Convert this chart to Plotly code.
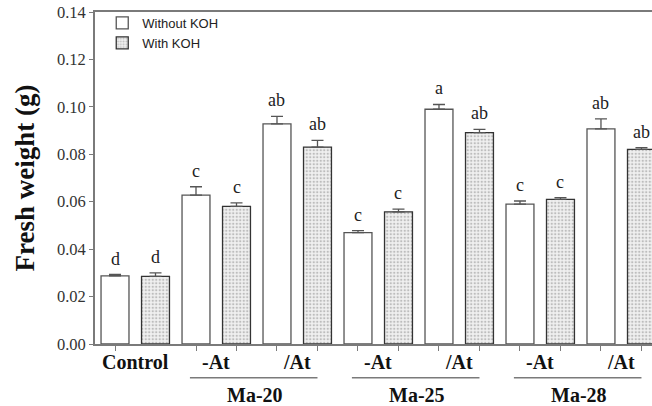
import plotly.graph_objects as go

# Data
groups = ["Control", "Ma-20 -At", "Ma-20 /At", "Ma-25 -At", "Ma-25 /At", "Ma-28 -At", "Ma-28 /At"]
sub_labels = ["Control", "-At", "/At", "-At", "/At", "-At", "/At"]
group_labels = ["Ma-20", "Ma-25", "Ma-28"]
without_koh = [0.0287, 0.0628, 0.0928, 0.0470, 0.0990, 0.0590, 0.0907]
without_err = [0.0006, 0.0035, 0.0032, 0.0008, 0.0020, 0.0013, 0.0042]
with_koh = [0.0285, 0.0580, 0.0830, 0.0557, 0.0891, 0.0610, 0.0821]
with_err = [0.0015, 0.0015, 0.0029, 0.0012, 0.0014, 0.0007, 0.0007]
letters_without = ["d", "c", "ab", "c", "a", "c", "ab"]
letters_with = ["d", "c", "ab", "c", "ab", "c", "ab"]

x_without = [2 * i for i in range(len(groups))]
x_with = [2 * i + 1 for i in range(len(groups))]

serif = "Liberation Serif"
axis_col = "#7a7a7a"

fig = go.Figure()
fig.add_trace(go.Bar(
    x=x_without, y=without_koh, name="Without KOH", width=0.69,
    marker=dict(color="white", line=dict(color="#555555", width=1.3)),
    error_y=dict(type="data", array=without_err, symmetric=False, arrayminus=[0]*7,
                 color="#555555", thickness=1.3, width=6),
))
fig.add_trace(go.Bar(
    x=x_with, y=with_koh, name="With KOH", width=0.69,
    marker=dict(color="#ececec", line=dict(color="#333333", width=1.3),
                pattern=dict(shape=".", fgcolor="#8a8a8a", bgcolor="#f0f0f0", size=3.5, solidity=0.35)),
    error_y=dict(type="data", array=with_err, symmetric=False, arrayminus=[0]*7,
                 color="#555555", thickness=1.3, width=6),
))

annotations = []
for xs, vals, errs, lets in [(x_without, without_koh, without_err, letters_without),
                              (x_with, with_koh, with_err, letters_with)]:
    for x, v, e, l in zip(xs, vals, errs, lets):
        annotations.append(dict(x=x, y=v + e, text=l, showarrow=False, yanchor="bottom",
                                yshift=4, font=dict(family=serif, size=18, color="#222")))

for i, lab in enumerate(sub_labels):
    annotations.append(dict(x=2 * i + 0.5, y=-0.055, yref="paper", text="<b>%s</b>" % lab,
                            showarrow=False, yanchor="middle",
                            font=dict(family=serif, size=20, color="#111")))

shapes = []
for j, g in enumerate(group_labels):
    start = 2 + 4 * j
    end = start + 3
    shapes.append(dict(type="line", xref="x", yref="paper", x0=start - 0.15, x1=end + 0.0,
                       y0=-0.102, y1=-0.102, line=dict(color=axis_col, width=1.5)))
    annotations.append(dict(x=(start + end) / 2 - 0.05, y=-0.155, yref="paper",
                            text="<b>%s</b>" % g, showarrow=False, yanchor="middle",
                            font=dict(family=serif, size=20, color="#111")))

tickvals = [v for v in sorted(x_without + x_with) if v != 1]

fig.update_layout(
    width=652, height=406,
    margin=dict(l=95, r=0, t=12, b=62),
    paper_bgcolor="white", plot_bgcolor="white",
    barmode="overlay",
    showlegend=True,
    legend=dict(x=0.013, y=1.012, xanchor="left", yanchor="top",
                font=dict(family="Liberation Sans", size=13, color="#222"),
                bgcolor="rgba(0,0,0,0)", itemwidth=30, tracegroupgap=0),
    xaxis=dict(range=[-0.494, 13.26], tickvals=tickvals, ticktext=[""] * len(tickvals),
               ticks="outside", ticklen=5, tickcolor=axis_col, showgrid=False, zeroline=False,
               showline=True, linecolor=axis_col, linewidth=1.8, mirror=True),
    yaxis=dict(range=[0, 0.14], dtick=0.02, tickformat=".2f", ticks="outside", ticklen=4,
               tickcolor=axis_col, showgrid=False, zeroline=False, showline=True,
               linecolor=axis_col, linewidth=1.8,
               tickfont=dict(family=serif, size=16.5, color="#333"),
               title=dict(text="<b>Fresh weight (g)</b>", font=dict(family=serif, size=27, color="#111"),
                          standoff=14)),
    annotations=annotations,
    shapes=shapes,
)

fig.write_html("out.html", config={"displayModeBar": False},
               post_script="document.body.style.margin='0px';document.body.style.overflow='hidden';")
